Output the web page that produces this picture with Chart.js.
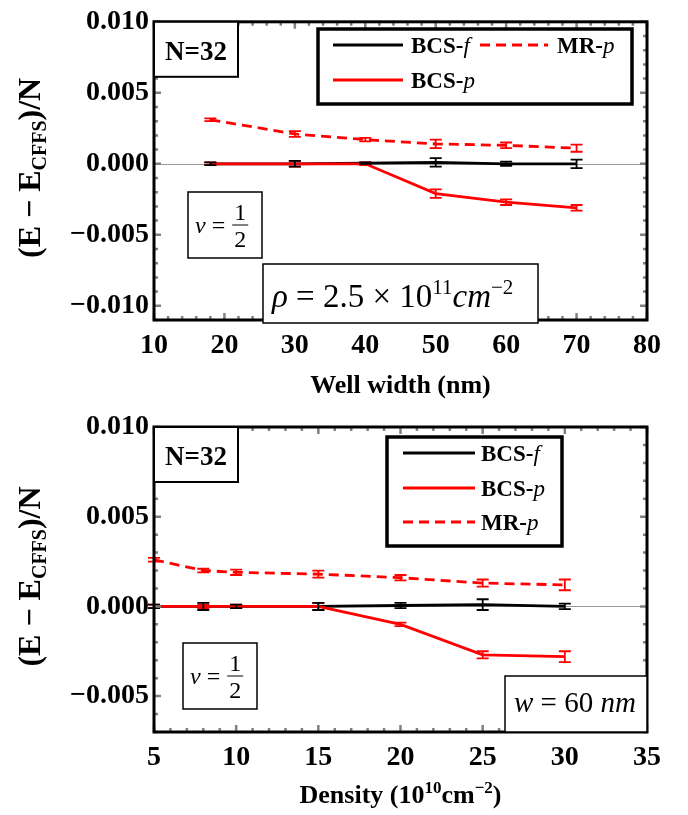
<!DOCTYPE html>
<html>
<head>
<meta charset="utf-8">
<script src="https://cdn.jsdelivr.net/npm/chart.js@4.4.1/dist/chart.umd.min.js"></script>
<style>
  html, body { margin: 0; padding: 0; background: #fff; }
  #wrap { position: relative; width: 688px; height: 815px; }
  #wrap canvas { position: absolute; left: 0; }
</style>
</head>
<body>
<div id="wrap">
  <canvas id="topChart" width="688" height="405" style="top:0"></canvas>
  <canvas id="bottomChart" width="688" height="410" style="top:405px"></canvas>
</div>
<script>
// ----- Data: energy vs well width (rho = 2.5e11) -----
const widthX = [18, 30, 40, 50, 60, 70];
const wBcsF = [0, 0, 0.00005, 0.0001, 0, 0];
const wBcsFErr = [0.0001, 0.0002, 0.00005, 0.0003, 0.00015, 0.0003];
const wBcsP = [0, 0, 0, -0.0021, -0.0027, -0.0031];
const wBcsPErr = [0.0001, 0.0002, 0.0001, 0.0003, 0.0002, 0.0002];
const wMrP = [0.0031, 0.0021, 0.0017, 0.0014, 0.0013, 0.0011];
const wMrPErr = [0.0001, 0.0002, 0.00012, 0.0003, 0.0002, 0.00025];
const wXTicks = [10, 20, 30, 40, 50, 60, 70, 80];
const wYTicks = [-0.010, -0.005, 0.000, 0.005, 0.010];

// ----- Data: energy vs density (w = 60 nm) -----
const densX = [5, 8, 10, 15, 20, 25, 30];
const dBcsF = [0, 0, 0, 0, 0.00005, 0.0001, 0];
const dBcsFErr = [0.0001, 0.0002, 0.0001, 0.0002, 0.00015, 0.0003, 0.00015];
const dBcsP = [0, 0, 0, 0, -0.001, -0.0027, -0.0028];
const dBcsPErr = [0.0001, 0.0001, 0.0001, 0.0002, 0.0001, 0.0002, 0.0003];
const dMrP = [0.0026, 0.002, 0.0019, 0.0018, 0.0016, 0.0013, 0.0012];
const dMrPErr = [0.0001, 0.0001, 0.00015, 0.0002, 0.00015, 0.0002, 0.0003];
const dXTicks = [5, 10, 15, 20, 25, 30, 35];
const dYTicks = [-0.005, 0.000, 0.005, 0.010];

const RED = '#ff0000';
const SERIF = '"Liberation Serif", "DejaVu Serif", serif';

function pts(xs, ys) {
  return xs.map((x, i) => ({ x: x, y: ys[i] }));
}

// draw text pieces one after another: [text, font, dy]
function drawRuns(ctx, runs, x, y) {
  let cx = x;
  runs.forEach(r => {
    ctx.font = r[1];
    ctx.fillText(r[0], cx, y + (r[2] || 0));
    cx += ctx.measureText(r[0]).width;
  });
  return cx;
}
function runsWidth(ctx, runs) {
  let w = 0;
  runs.forEach(r => { ctx.font = r[1]; w += ctx.measureText(r[0]).width; });
  return w;
}

function box(ctx, x1, y1, x2, y2, lw) {
  ctx.save();
  ctx.fillStyle = '#fff';
  ctx.fillRect(x1, y1, x2 - x1, y2 - y1);
  ctx.strokeStyle = '#000';
  ctx.lineWidth = lw;
  ctx.strokeRect(x1, y1, x2 - x1, y2 - y1);
  ctx.restore();
}

// ----- plugin: error bars, frame, ticks, titles and inset boxes -----
const decoPlugin = {
  id: 'deco',
  beforeDatasetsDraw(chart) {
    const ctx = chart.ctx, a = chart.chartArea;
    const ys = chart.scales.y;
    ctx.save();
    ctx.strokeStyle = '#999';
    ctx.lineWidth = 1;
    ctx.beginPath();
    ctx.moveTo(a.left, Math.round(ys.getPixelForValue(0)) + 0.5);
    ctx.lineTo(a.right, Math.round(ys.getPixelForValue(0)) + 0.5);
    ctx.stroke();
    ctx.restore();
  },
  afterDatasetsDraw(chart, args, opts) {
    const ctx = chart.ctx, a = chart.chartArea;
    const xs = chart.scales.x, ys = chart.scales.y;

    // error bars
    chart.data.datasets.forEach(ds => {
      ctx.save();
      ctx.strokeStyle = ds.borderColor;
      ctx.lineWidth = 1.8;
      ds.data.forEach((p, i) => {
        const e = ds.errors[i];
        const px = xs.getPixelForValue(p.x);
        const y1 = ys.getPixelForValue(p.y + e), y2 = ys.getPixelForValue(p.y - e);
        ctx.beginPath();
        ctx.moveTo(px, y1); ctx.lineTo(px, y2);
        ctx.moveTo(px - 6, y1); ctx.lineTo(px + 6, y1);
        ctx.moveTo(px - 6, y2); ctx.lineTo(px + 6, y2);
        ctx.stroke();
      });
      ctx.restore();
    });

    // frame ticks (gray, inside)
    ctx.save();
    ctx.strokeStyle = '#808080';
    ctx.lineWidth = 2.5;
    for (let v = xs.min; v <= xs.max + 1e-9; v += opts.xMinor) {
      const px = xs.getPixelForValue(v);
      const major = opts.xTicks.some(t => Math.abs(t - v) < 1e-9);
      const len = major ? 7 : 4;
      ctx.beginPath();
      ctx.moveTo(px, a.bottom); ctx.lineTo(px, a.bottom - len);
      ctx.moveTo(px, a.top); ctx.lineTo(px, a.top + len);
      ctx.stroke();
    }
    for (let v = ys.min; v <= ys.max + 1e-9; v += opts.yMinor) {
      const py = ys.getPixelForValue(v);
      const major = opts.yTicks.some(t => Math.abs(t - v) < 1e-9);
      const len = major ? 7 : 4;
      ctx.beginPath();
      ctx.moveTo(a.left, py); ctx.lineTo(a.left + len, py);
      ctx.moveTo(a.right, py); ctx.lineTo(a.right - len, py);
      ctx.stroke();
    }
    ctx.restore();

    // frame
    ctx.save();
    ctx.strokeStyle = '#000';
    ctx.lineWidth = 3;
    ctx.strokeRect(a.left, a.top, a.right - a.left, a.bottom - a.top);
    ctx.restore();

    // y title
    ctx.save();
    ctx.fillStyle = '#000';
    ctx.textBaseline = 'alphabetic';
    const big = 'bold 32px ' + SERIF, small = 'bold 20px ' + SERIF;
    const yRuns = [['(E \u2212 E', big, 0], ['CFFS', small, 6], [')/N', big, 0]];
    const tw = runsWidth(ctx, yRuns);
    ctx.translate(40, (a.top + a.bottom) / 2 - 3);
    ctx.rotate(-Math.PI / 2);
    drawRuns(ctx, yRuns, -tw / 2, 0);
    ctx.restore();

    // x title
    ctx.save();
    ctx.fillStyle = '#000';
    const xw = runsWidth(ctx, opts.xTitle);
    drawRuns(ctx, opts.xTitle, (a.left + a.right) / 2 - xw / 2, opts.xTitleY);
    ctx.restore();

    // inset boxes
    opts.boxes.forEach(b => b(ctx, a));
  }
};

function legendLine(ctx, x1, x2, y, color, dashed) {
  ctx.save();
  ctx.strokeStyle = color;
  ctx.lineWidth = 3;
  if (dashed) ctx.setLineDash([10, 6]);
  ctx.beginPath();
  ctx.moveTo(x1, y); ctx.lineTo(x2, y);
  ctx.stroke();
  ctx.restore();
}

const legB = 'bold 23px ' + SERIF, legI = 'italic 23px ' + SERIF;

function nBox(ctx, a) {
  box(ctx, a.left, a.top, a.left + 84, a.top + 55, 2);
  ctx.fillStyle = '#000';
  ctx.font = 'bold 27px ' + SERIF;
  ctx.fillText('N=32', a.left + 11, a.top + 38);
}

function nuBox(ctx, x1, y1, x2, y2) {
  box(ctx, x1, y1, x2, y2, 1.5);
  ctx.fillStyle = '#000';
  const f = '24px ' + SERIF;
  const my = (y1 + y2) / 2;
  let cx = drawRuns(ctx, [['\u03bd', 'italic ' + f], [' = ', f]], x1 + 7, my + 8);
  ctx.font = f;
  ctx.textAlign = 'center';
  ctx.fillText('1', cx + 9, my - 5);
  ctx.fillText('2', cx + 9, my + 22);
  ctx.textAlign = 'left';
  ctx.lineWidth = 1;
  ctx.beginPath();
  ctx.moveTo(cx + 1, my); ctx.lineTo(cx + 17, my);
  ctx.stroke();
}

function makeChart(id, xTickVals, yTickVals, xMin, xMax, yMin, yMax, sets, deco, padTop, padBottom) {
  const ctx = document.getElementById(id).getContext('2d');
  return new Chart(ctx, {
    type: 'line',
    data: {
      datasets: sets.map(s => ({
        label: s.label,
        data: s.data,
        errors: s.errors,
        borderColor: s.color,
        backgroundColor: s.color,
        borderWidth: 2.8,
        borderDash: s.dashed ? [10, 6] : [],
        pointRadius: 0,
        tension: 0,
        fill: false
      }))
    },
    options: {
      responsive: false,
      animation: false,
      events: [],
      layout: { padding: { left: 0, right: 41, top: padTop, bottom: padBottom } },
      plugins: { legend: { display: false }, tooltip: { enabled: false }, deco: deco },
      scales: {
        x: {
          type: 'linear', min: xMin, max: xMax,
          grid: { display: false, drawTicks: false },
          border: { display: false },
          afterBuildTicks: s => { s.ticks = xTickVals.map(v => ({ value: v })); },
          afterFit: s => { s.height = 60; },
          ticks: { color: '#000', padding: 9, maxRotation: 0, font: { family: SERIF, size: 28, weight: 'bold' } }
        },
        y: {
          type: 'linear', min: yMin, max: yMax,
          grid: { display: false, drawTicks: false },
          border: { display: false },
          afterBuildTicks: s => { s.ticks = yTickVals.map(v => ({ value: v })); },
          afterFit: s => { s.width = 154; },
          ticks: {
            color: '#000', padding: 5, font: { family: SERIF, size: 28, weight: 'bold' },
            callback: v => (v < 0 ? '\u2212' : '') + Math.abs(v).toFixed(3)
          }
        }
      }
    },
    plugins: [decoPlugin]
  });
}

// top chart: well width
makeChart('topChart', wXTicks, wYTicks, 10, 80, -0.011, 0.010, [
  { label: 'MR-p', data: pts(widthX, wMrP), errors: wMrPErr, color: RED, dashed: true },
  { label: 'BCS-p', data: pts(widthX, wBcsP), errors: wBcsPErr, color: RED },
  { label: 'BCS-f', data: pts(widthX, wBcsF), errors: wBcsFErr, color: '#000' }
], {
  xTicks: wXTicks, yTicks: wYTicks, xMinor: 2, yMinor: 0.001,
  xTitle: [['Well width (nm)', 'bold 26px ' + SERIF]], xTitleY: 393,
  boxes: [
    nBox,
    (ctx, a) => {
      box(ctx, 318, 29, 632, 104, 3.5);
      ctx.fillStyle = '#000';
      legendLine(ctx, 333, 403, 45, '#000');
      drawRuns(ctx, [['BCS-', legB], ['f', legI]], 411, 53);
      legendLine(ctx, 480, 548, 45, RED, true);
      drawRuns(ctx, [['MR-', legB], ['p', legI]], 557, 53);
      legendLine(ctx, 333, 403, 80, RED);
      drawRuns(ctx, [['BCS-', legB], ['p', legI]], 411, 88);
    },
    (ctx, a) => nuBox(ctx, 188, 192, 262, 258),
    (ctx, a) => {
      box(ctx, 263, 264, 538, a.bottom + 3, 1.5);
      ctx.fillStyle = '#000';
      const f = '33px ' + SERIF, fs = '21px ' + SERIF;
      drawRuns(ctx, [['\u03c1', 'italic ' + f], [' = 2.5 \u00d7 10', f], ['11', fs, -13],
        ['cm', 'italic ' + f], ['\u22122', fs, -13]], 272, 307);
    }
  ]
}, 15, 25);

// bottom chart: density
makeChart('bottomChart', dXTicks, dYTicks, 5, 35, -0.007, 0.010, [
  { label: 'MR-p', data: pts(densX, dMrP), errors: dMrPErr, color: RED, dashed: true },
  { label: 'BCS-p', data: pts(densX, dBcsP), errors: dBcsPErr, color: RED },
  { label: 'BCS-f', data: pts(densX, dBcsF), errors: dBcsFErr, color: '#000' }
], {
  xTicks: dXTicks, yTicks: dYTicks, xMinor: 1, yMinor: 0.001,
  xTitle: [['Density (10', 'bold 26px ' + SERIF], ['10', 'bold 17px ' + SERIF, -10],
    ['cm', 'bold 26px ' + SERIF], ['\u22122', 'bold 17px ' + SERIF, -10], [')', 'bold 26px ' + SERIF]],
  xTitleY: 398,
  boxes: [
    nBox,
    (ctx, a) => {
      box(ctx, 387, 32, 562, 141, 3.5);
      ctx.fillStyle = '#000';
      legendLine(ctx, 403, 475, 48, '#000');
      drawRuns(ctx, [['BCS-', legB], ['f', legI]], 481, 56);
      legendLine(ctx, 403, 475, 83, RED);
      drawRuns(ctx, [['BCS-', legB], ['p', legI]], 481, 91);
      legendLine(ctx, 403, 475, 117, RED, true);
      drawRuns(ctx, [['MR-', legB], ['p', legI]], 481, 125);
    },
    (ctx, a) => nuBox(ctx, 183, 238, 257, 304),
    (ctx, a) => {
      box(ctx, 505, 271, a.right, a.bottom, 1.5);
      ctx.fillStyle = '#000';
      const f = '29px ' + SERIF;
      drawRuns(ctx, [['w', 'italic ' + f], [' = 60 ', f], ['nm', 'italic ' + f]], 514, 307);
    }
  ]
}, 22, 23);
</script>
</body>
</html>
